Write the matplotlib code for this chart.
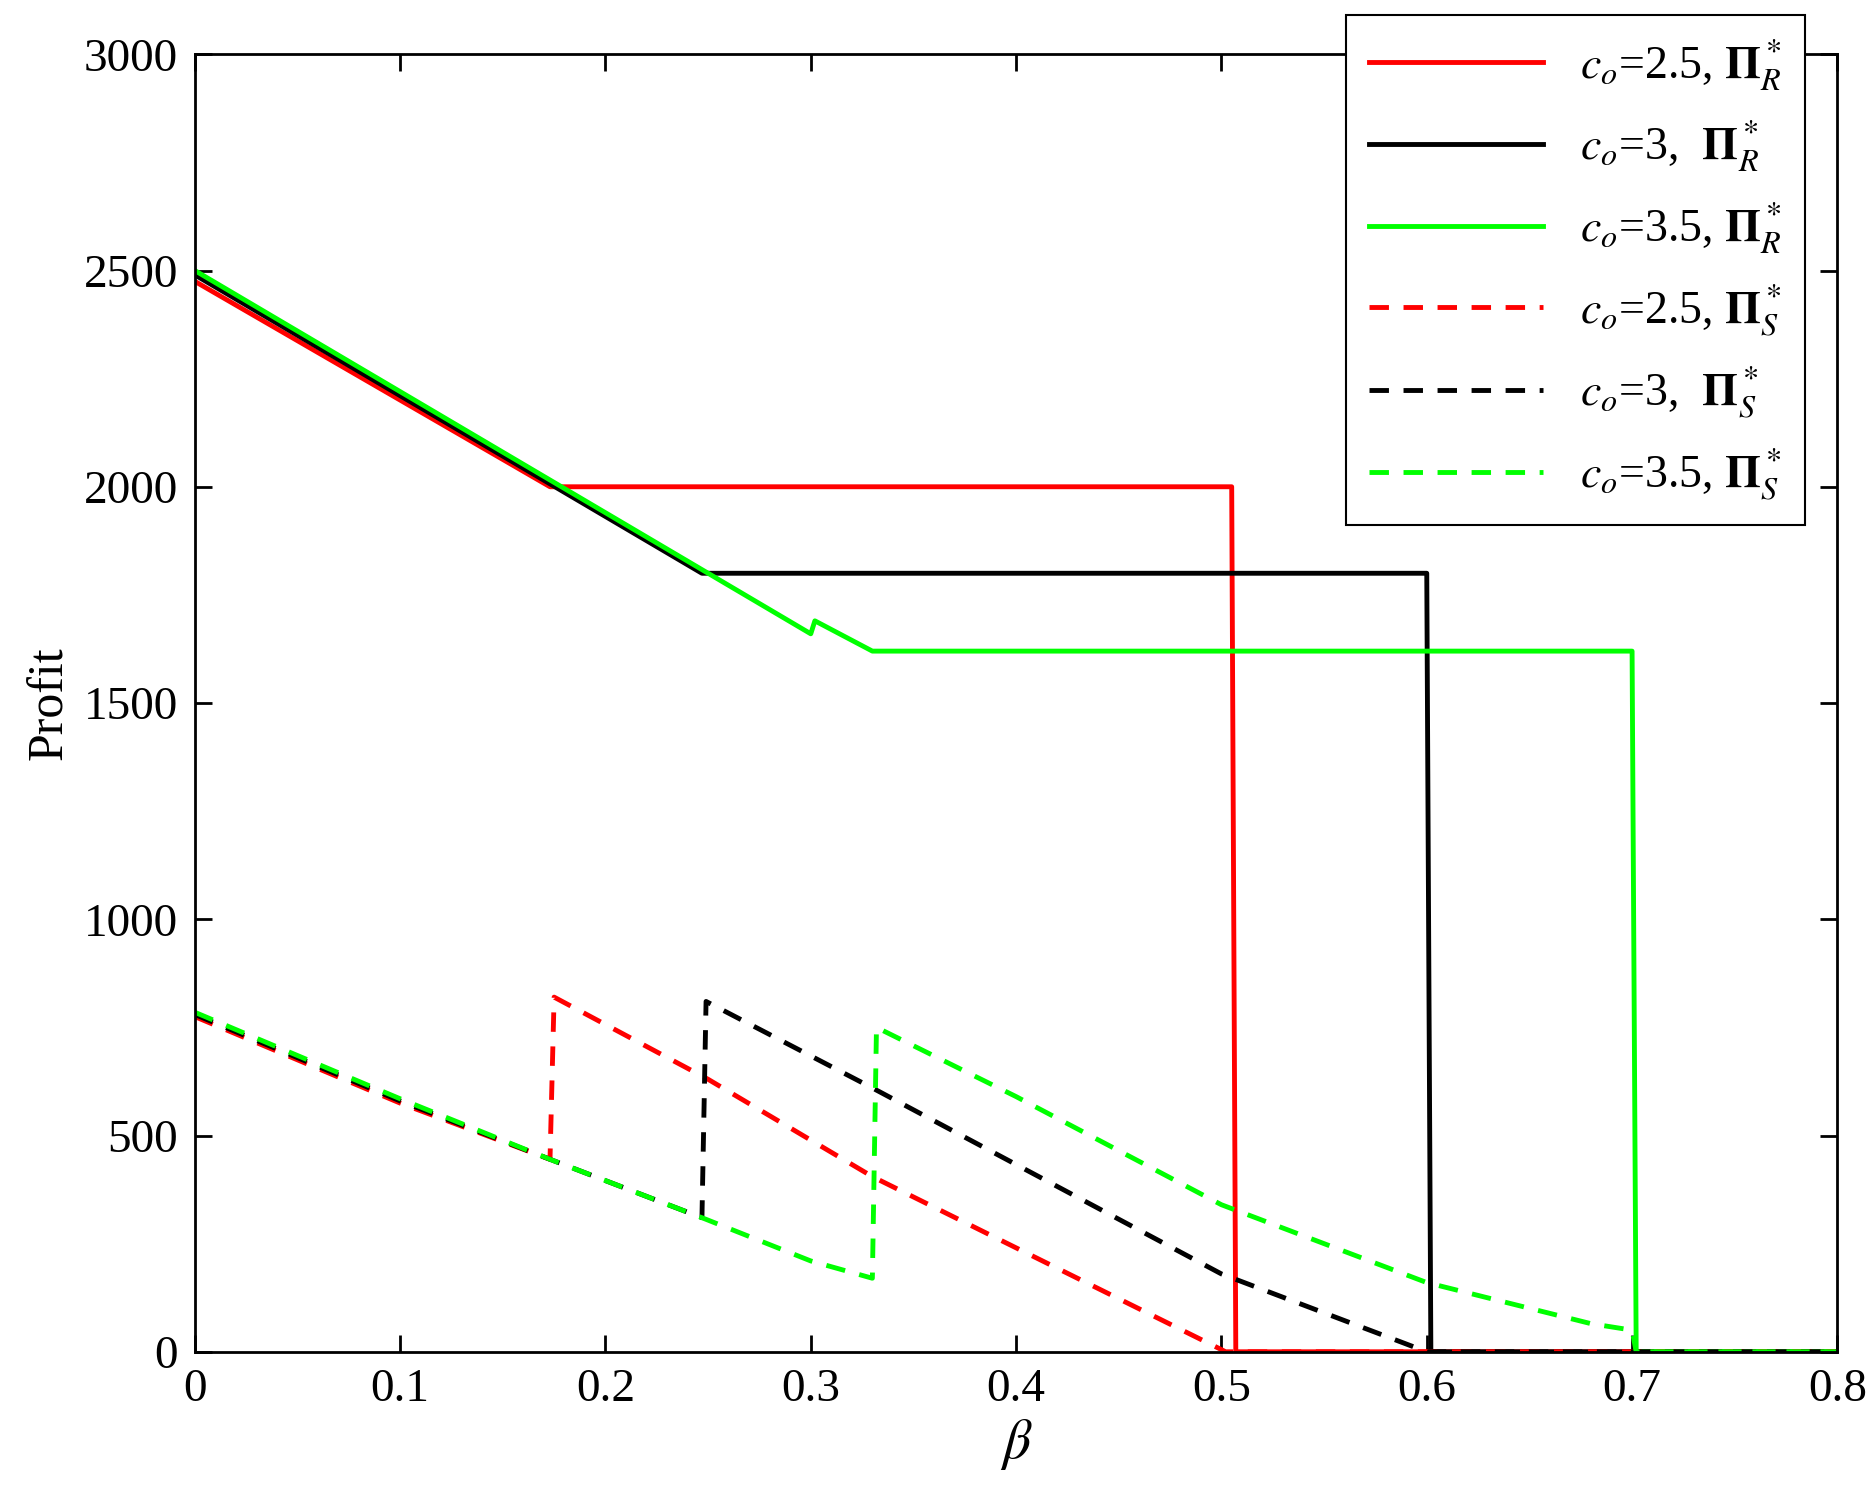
import matplotlib.pyplot as plt

plt.rcParams['font.family'] = ['Liberation Serif', 'DejaVu Serif']
plt.rcParams['mathtext.fontset'] = 'stix'

# solid: retailer profit
r25_x = [0, 0.173, 0.505, 0.507, 0.8]
r25_y = [2475, 2000, 2000, 0, 0]
r3_x = [0, 0.247, 0.600, 0.602, 0.8]
r3_y = [2490, 1800, 1800, 0, 0]
r35_x = [0, 0.300, 0.302, 0.330, 0.700, 0.702, 0.8]
r35_y = [2500, 1660, 1690, 1620, 1620, 0, 0]

# dashed: supplier profit
s25_x = [0, 0.1, 0.173, 0.175, 0.25, 0.33, 0.5, 0.502, 0.8]
s25_y = [775, 575, 445, 820, 630, 405, 5, 0, 0]
s3_x = [0, 0.1, 0.173, 0.247, 0.249, 0.33, 0.5, 0.6, 0.8]
s3_y = [780, 580, 445, 310, 810, 610, 180, 0, 0]
s35_x = [0, 0.1, 0.173, 0.247, 0.3, 0.33, 0.332, 0.4, 0.5, 0.6, 0.68, 0.7, 0.702, 0.8]
s35_y = [785, 585, 445, 310, 210, 170, 750, 590, 340, 160, 65, 50, 0, 0]

fig = plt.figure(figsize=(18.73, 15.07), dpi=100)
ax = fig.add_axes([0.104, 0.103, 0.877, 0.861])
lw = 3.5
ax.plot(r25_x, r25_y, color='red', lw=lw, label=r'$c_o$=2.5, $\mathbf{\Pi}^*_R$')
ax.plot(r3_x, r3_y, color='black', lw=lw, label=r'$c_o$=3,  $\mathbf{\Pi}^*_R$')
ax.plot(r35_x, r35_y, color='#00ff00', lw=lw, label=r'$c_o$=3.5, $\mathbf{\Pi}^*_R$')
ax.plot(s25_x, s25_y, color='red', lw=lw, ls=(0, (4, 3)), label=r'$c_o$=2.5, $\mathbf{\Pi}^*_S$')
ax.plot(s3_x, s3_y, color='black', lw=lw, ls=(0, (4, 3)), label=r'$c_o$=3,  $\mathbf{\Pi}^*_S$')
ax.plot(s35_x, s35_y, color='#00ff00', lw=lw, ls=(0, (4, 3)), label=r'$c_o$=3.5, $\mathbf{\Pi}^*_S$')

ax.set_xlim(0, 0.8)
ax.set_ylim(0, 3000)
ax.set_xticks([0, 0.1, 0.2, 0.3, 0.4, 0.5, 0.6, 0.7, 0.8])
ax.set_xticklabels(['0', '0.1', '0.2', '0.3', '0.4', '0.5', '0.6', '0.7', '0.8'])
ax.tick_params(direction='in', top=True, right=True, labelsize=34, length=12, width=2, pad=12)
for s in ax.spines.values():
    s.set_linewidth(2)
ax.set_xlabel(r'$\beta$', fontsize=40, labelpad=4)
ax.set_ylabel('Profit', fontsize=36, labelpad=8)
leg = ax.legend(loc='upper right', bbox_to_anchor=(0.98, 1.03), borderaxespad=0, fontsize=33,
                frameon=True, fancybox=False, edgecolor='black', handlelength=3.8,
                labelspacing=0.6, borderpad=0.5)
leg.get_frame().set_linewidth(1.5)
leg.get_frame().set_alpha(1)
leg.set_zorder(10)
fig.savefig('out.png', dpi=100)
